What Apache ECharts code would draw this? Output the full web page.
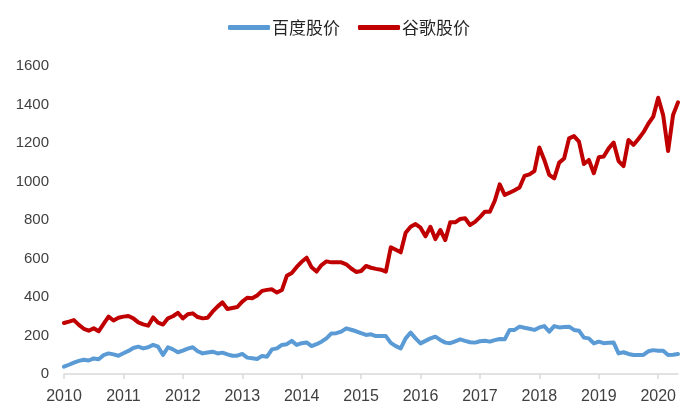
<!DOCTYPE html>
<html>
<head>
<meta charset="utf-8">
<script src="https://cdn.jsdelivr.net/npm/echarts@6/dist/echarts.min.js"></script>
<style>html,body{margin:0;padding:0;background:#fff}#c{width:700px;height:420px}</style>
</head>
<body>
<div id="c"></div>
<script>
const seriesNames = ['百度股价', '谷歌股价'];
const startYear = 2010;
const yearTicks = ['2010','2011','2012','2013','2014','2015','2016','2017','2018','2019','2020'];
const baidu = [38,48,59,68,74,70,81,77,98,107,102,95,
  108,120,135,142,133,139,151,142,99,139,128,113,
  122,132,139,118,107,112,116,107,111,102,95,95,
  104,85,82,78,94,90,128,133,151,155,172,151,
  160,164,145,155,168,185,211,212,220,237,230,222,
  212,203,206,197,197,197,162,145,133,185,215,185,
  159,172,185,194,177,163,160,170,180,172,165,163,
  170,173,168,176,182,180,229,229,246,240,235,229,
  242,249,220,249,242,244,246,229,225,189,185,159,
  168,160,162,163,107,113,104,99,99,99,118,124,
  121,121,99,100,104];
const google = [265,272,280,255,235,225,238,222,260,298,278,292,
  298,301,289,268,258,251,294,267,257,289,300,318,
  289,310,315,296,289,292,324,350,372,338,343,348,
  376,396,393,408,432,437,440,423,436,510,525,556,
  583,604,554,532,566,585,580,580,580,570,548,530,
  535,561,552,546,542,532,658,645,632,734,765,779,
  760,715,765,701,748,696,788,788,805,809,774,790,
  815,843,843,900,985,930,942,955,969,1029,1037,1054,
  1177,1112,1034,1016,1098,1120,1224,1236,1207,1091,1112,1043,
  1126,1130,1172,1202,1106,1080,1216,1190,1221,1255,1300,1337,
  1435,1345,1158,1345,1411];
const months = baidu.map((_, i) => {
  const y = startYear + Math.floor(i / 12);
  const m = (i % 12) + 1;
  return y + '-' + (m < 10 ? '0' + m : m);
});

const chart = echarts.init(document.getElementById('c'), null, {renderer: 'canvas'});
const isYearStart = (i) => i % 12 === 0;
chart.setOption({
  animation: false,
  backgroundColor: '#fff',
  legend: {
    left: 228,
    top: 19,
    padding: 0,
    itemWidth: 42,
    itemHeight: 5,
    itemGap: 18,
    icon: 'roundRect',
    textStyle: {fontFamily: 'Noto Sans CJK SC', fontSize: 17, color: '#262626', padding: [0, 0, 0, -3]},
    data: seriesNames
  },
  grid: {left: 64, right: 22, top: 66, bottom: 46, containLabel: false},
  xAxis: {
    type: 'category',
    boundaryGap: false,
    data: months,
    axisLine: {lineStyle: {color: '#d9d9d9', width: 1.5}},
    axisTick: {show: true, interval: (i) => isYearStart(i), alignWithLabel: true, length: 5, lineStyle: {color: '#d9d9d9', width: 1.5}},
    axisLabel: {
      interval: (i) => isYearStart(i),
      formatter: (v, i) => yearTicks[Math.floor(i / 12)],
      fontFamily: 'Liberation Sans', fontSize: 16, color: '#404040', margin: 15
    },
    splitLine: {show: false}
  },
  yAxis: {
    type: 'value',
    min: 0, max: 1600, interval: 200,
    axisLine: {show: false},
    axisTick: {show: false},
    splitLine: {show: false},
    axisLabel: {fontFamily: 'Liberation Sans', fontSize: 15, color: '#404040', margin: 15,
      formatter: (v) => String(v)}
  },
  series: [
    {name: seriesNames[0], type: 'line', data: baidu, symbol: 'none', color: '#5B9BD5',
     lineStyle: {width: 4, color: '#5B9BD5', join: 'round', cap: 'round'}},
    {name: seriesNames[1], type: 'line', data: google, symbol: 'none', color: '#C00000',
     lineStyle: {width: 4, color: '#C00000', join: 'round', cap: 'round'}}
  ]
});
</script>
</body>
</html>
